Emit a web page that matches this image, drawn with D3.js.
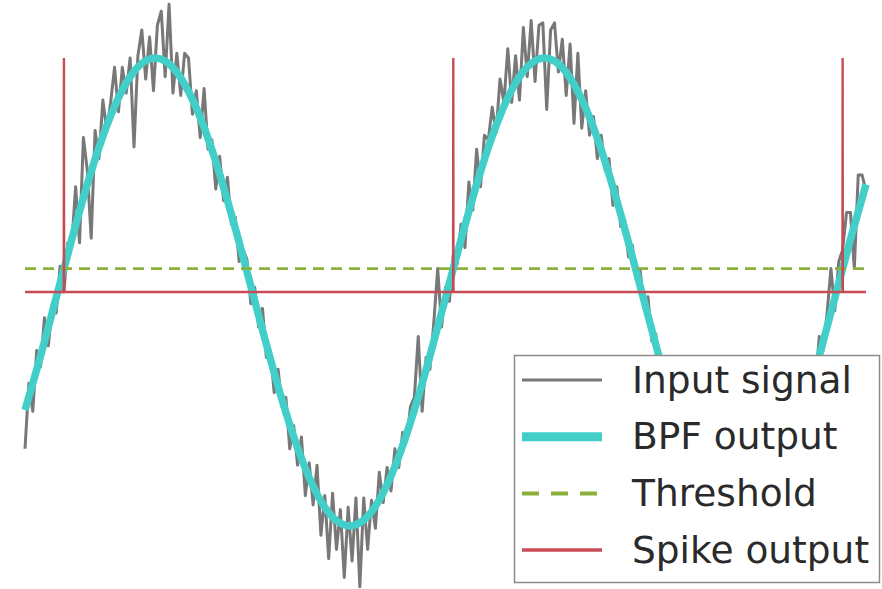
<!DOCTYPE html>
<html>
<head>
<meta charset="utf-8">
<script src="https://cdn.jsdelivr.net/npm/d3@7"></script>
<style>
  html, body { margin: 0; padding: 0; background: #fff; }
  svg { display: block; }
</style>
</head>
<body>
<div id="chart"></div>
<script>
// time axis in ms, input sampled every 1 ms, BPF read every 4 ms
const inputStep = 1;
const bpfStep = 4;
const tMax = 216;

const inputSignal = [
  -0.67, -0.39, -0.51, -0.25, -0.32, -0.11, -0.23, -0.05, -0.09, 0.11,
  0.00, 0.21, 0.20, 0.45, 0.21, 0.66, 0.52, 0.23, 0.69, 0.57,
  0.82, 0.69, 0.81, 0.96, 0.77, 0.96, 0.85, 1.00, 0.62, 1.01,
  1.12, 0.91, 1.09, 0.86, 1.14, 1.20, 0.92, 1.23, 0.85, 1.02,
  0.84, 1.02, 1.00, 0.76, 0.86, 0.66, 0.87, 0.61, 0.65, 0.44,
  0.58, 0.39, 0.49, 0.29, 0.32, 0.13, 0.18, 0.14, -0.05, 0.02,
  -0.15, -0.07, -0.28, -0.25, -0.43, -0.33, -0.49, -0.45, -0.67, -0.57,
  -0.74, -0.62, -0.87, -0.73, -0.91, -0.74, -1.04, -0.87, -1.14, -0.86,
  -1.10, -0.93, -1.22, -0.92, -1.15, -0.88, -1.26, -0.88, -1.10, -0.89,
  -1.01, -0.77, -0.90, -0.75, -0.85, -0.67, -0.75, -0.60, -0.64, -0.49,
  -0.45, -0.19, -0.51, -0.28, -0.33, -0.13, 0.10, -0.15, 0.02, -0.04,
  0.16, 0.12, 0.29, 0.19, 0.47, 0.35, 0.61, 0.45, 0.67, 0.65,
  0.79, 0.68, 0.91, 0.81, 1.04, 0.81, 1.01, 0.82, 1.13, 0.92,
  1.16, 0.90, 1.14, 1.15, 0.78, 1.12, 1.15, 0.94, 1.08, 0.84,
  1.06, 0.72, 1.02, 0.70, 0.86, 0.67, 0.75, 0.57, 0.67, 0.52,
  0.57, 0.37, 0.45, 0.28, 0.31, 0.15, 0.20, 0.05, 0.09, -0.07,
  -0.02, -0.21, -0.18, -0.35, -0.30, -0.47, -0.40, -0.56, -0.49, -0.68,
  -0.62, -0.81, -0.68, -0.87, -0.73, -0.98, -0.83, -1.07, -0.85, -1.14,
  -0.91, -1.12, -0.90, -1.20, -0.94, -1.14, -0.88, -1.14, -0.88, -1.03,
  -0.82, -0.95, -0.79, -0.90, -0.74, -0.82, -0.64, -0.71, -0.53, -0.60,
  -0.44, -0.52, -0.34, -0.39, -0.19, -0.25, -0.09, 0.10, -0.08, 0.13,
  0.18, 0.34, 0.34, 0.10, 0.50, 0.50, 0.43
];

const bpfOutput = [
  -0.504, -0.273, -0.025, 0.224, 0.460, 0.666, 0.830, 0.943, 0.996, 0.987,
  0.915, 0.786, 0.608, 0.391, 0.150, -0.100, -0.345, -0.567, -0.754, -0.894,
  -0.977, -0.999, -0.959, -0.858, -0.703, -0.504, -0.273, -0.025, 0.224, 0.460,
  0.666, 0.830, 0.943, 0.996, 0.987, 0.915, 0.786, 0.608, 0.391, 0.150,
  -0.100, -0.345, -0.567, -0.754, -0.894, -0.977, -0.999, -0.959, -0.858, -0.703,
  -0.504, -0.273, -0.025, 0.224, 0.460
];

const threshold = 0.1;
const spikeTimes = [10, 110, 210];
const spikeHeight = 1;

const legendLabels = ["Input signal", "BPF output", "Threshold", "Spike output"];

const colors = {
  input: "#787878",
  bpf: "#42cfc9",
  threshold: "#8cb03c",
  spike: "#c84b54"
};

const width = 882, height = 589;

const svg = d3.select("#chart")
  .append("svg")
  .attr("width", width)
  .attr("height", height);

const x = d3.scaleLinear().domain([0, tMax]).range([25, 866]);
const y = d3.scaleLinear().domain([0, 1]).range([292, 58]);

const line = d3.line()
  .x(d => x(d[0]))
  .y(d => y(d[1]));

// input signal
svg.append("path")
  .datum(inputSignal.map((v, i) => [i * inputStep, v]))
  .attr("fill", "none")
  .attr("stroke", colors.input)
  .attr("stroke-width", 3)
  .attr("stroke-linejoin", "round")
  .attr("d", line);

// BPF output
svg.append("path")
  .datum(bpfOutput.map((v, i) => [i * bpfStep, v]))
  .attr("fill", "none")
  .attr("stroke", colors.bpf)
  .attr("stroke-width", 7.5)
  .attr("stroke-linecap", "butt")
  .attr("d", line.curve(d3.curveNatural));
line.curve(d3.curveLinear);

// threshold
svg.append("path")
  .datum([[0, threshold], [tMax, threshold]])
  .attr("fill", "none")
  .attr("stroke", colors.threshold)
  .attr("stroke-width", 2.6)
  .attr("stroke-dasharray", "11,7")
  .attr("d", line);

// spike output: zero everywhere, one sample high at each crossing
const spikeSeries = [[0, 0]];
spikeTimes.forEach(t => {
  spikeSeries.push([t - 0.05, 0], [t, spikeHeight], [t + 0.05, 0]);
});
spikeSeries.push([tMax, 0]);

svg.append("path")
  .datum(spikeSeries)
  .attr("fill", "none")
  .attr("stroke", colors.spike)
  .attr("stroke-width", 2.4)
  .attr("d", line);

// legend
const legend = svg.append("g");
legend.append("rect")
  .attr("x", 514.5)
  .attr("y", 355.5)
  .attr("width", 365)
  .attr("height", 227)
  .attr("fill", "#fff")
  .attr("stroke", "#8c8c8c")
  .attr("stroke-width", 1.5);

const legendStyles = [
  { color: colors.input, w: 2.8, dash: null },
  { color: colors.bpf, w: 9, dash: null },
  { color: colors.threshold, w: 4, dash: "17,12" },
  { color: colors.spike, w: 3.5, dash: null }
];

legendLabels.forEach((label, i) => {
  const cy = 380 + i * 56.7;
  const s = legendStyles[i];
  legend.append("line")
    .attr("x1", 522).attr("x2", 602)
    .attr("y1", cy).attr("y2", cy)
    .attr("stroke", s.color)
    .attr("stroke-width", s.w)
    .attr("stroke-dasharray", s.dash);
  legend.append("text")
    .attr("x", 632)
    .attr("y", cy + 12.5)
    .attr("font-family", "DejaVu Sans")
    .attr("font-size", 37.5)
    .attr("fill", "#2a2a2a")
    .text(label);
});
</script>
</body>
</html>
